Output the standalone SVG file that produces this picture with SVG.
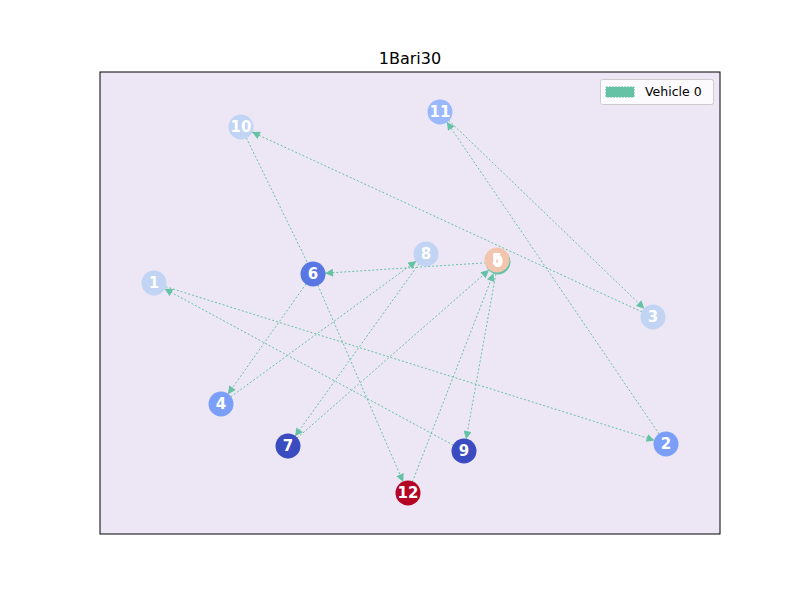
<svg xmlns="http://www.w3.org/2000/svg" width="800" height="600" viewBox="0 0 800 600">
<style>
.t{font-family:"DejaVu Sans",sans-serif;}
.e{stroke:#66c2a5;stroke-width:1;stroke-dasharray:2,2;fill:none;marker-end:url(#ah);}
.n text{font-family:"DejaVu Sans",sans-serif;font-size:15px;font-weight:bold;fill:#fff;text-anchor:middle;dominant-baseline:central;}
</style>
<defs>
<marker id="ah" viewBox="0 0 10 10" refX="10" refY="5" markerWidth="9" markerHeight="8" markerUnits="userSpaceOnUse" orient="auto">
<path d="M0,0 L10,5 L0,10 z" fill="#66c2a5"/>
</marker>
</defs>
<rect width="800" height="600" fill="#fff"/>
<rect x="100" y="72" width="620" height="462" fill="#ede7f5" stroke="#000" stroke-width="1"/>
<text class="t" x="410" y="64" font-size="16" text-anchor="middle">1Bari30</text>
<g id="edges">
<line class="e" x1="486" y1="262.8" x2="325" y2="273.2"/>
<line class="e" x1="317.8" y1="285" x2="403.2" y2="482"/>
<line class="e" x1="412.4" y1="481.8" x2="493.6" y2="273.2"/>
<line class="e" x1="495.9" y1="273.8" x2="466.1" y2="439.2"/>
<line class="e" x1="453.5" y1="445.3" x2="164.5" y2="288.7"/>
<line class="e" x1="165.4" y1="286.6" x2="654.6" y2="440.4"/>
<line class="e" x1="659.2" y1="434.1" x2="446.8" y2="121.9"/>
<line class="e" x1="448.6" y1="120.3" x2="644.4" y2="308.7"/>
<line class="e" x1="642.1" y1="312" x2="251.9" y2="132"/>
<line class="e" x1="246.3" y1="137.8" x2="307.7" y2="263.2" style="marker-end:none"/>
<line class="e" x1="306.1" y1="283.8" x2="227.9" y2="394.2"/>
<line class="e" x1="230.7" y1="396.9" x2="416.3" y2="261.1"/>
<line class="e" x1="419" y1="263.7" x2="295" y2="436.3"/>
<line class="e" x1="297" y1="438.1" x2="489" y2="269.9"/>
</g>
<g id="node0" class="n"><circle cx="498" cy="262" r="12.5" fill="#66c2a5"/></g>
<g id="node5" class="n"><circle cx="497" cy="260" r="12.5" fill="#f2c6ae"/></g>
<g id="node1" class="n"><circle cx="154" cy="283" r="12.5" fill="#c1d4f4"/><text x="154" y="283">1</text></g>
<g id="node2" class="n"><circle cx="666" cy="444" r="12.5" fill="#7b9ff9"/><text x="666" y="444">2</text></g>
<g id="node3" class="n"><circle cx="653" cy="317" r="12.5" fill="#c1d4f4"/><text x="653" y="317">3</text></g>
<g id="node4" class="n"><circle cx="221" cy="404" r="12.5" fill="#7b9ff9"/><text x="221" y="404">4</text></g>
<g id="node6" class="n"><circle cx="313" cy="274" r="12.5" fill="#5977e3"/><text x="313" y="274">6</text></g>
<g id="node7" class="n"><circle cx="288" cy="446" r="12.5" fill="#3b4cc0"/><text x="288" y="446">7</text></g>
<g id="node8" class="n"><circle cx="426" cy="254" r="12.5" fill="#c1d4f4"/><text x="426" y="254">8</text></g>
<g id="node9" class="n"><circle cx="464" cy="451" r="12.5" fill="#3b4cc0"/><text x="464" y="451">9</text></g>
<g id="node10" class="n"><circle cx="241" cy="127" r="12.5" fill="#c1d4f4"/><text x="241" y="127">10</text></g>
<g id="node11" class="n"><circle cx="440" cy="112" r="12.5" fill="#9ab8fe"/><text x="440" y="112">11</text></g>
<g id="node12" class="n"><circle cx="408" cy="493" r="12.5" fill="#b40426"/><text x="408" y="493">12</text></g>
<g id="labels05" class="n"><text x="498" y="262">0</text><text x="497" y="260">5</text></g>
<g id="legend">
<rect x="600.5" y="79.5" width="113" height="25" rx="2" fill="#fff" fill-opacity="0.8" stroke="#ccc"/>
<rect x="606" y="87" width="28" height="10" fill="#66c2a5" stroke="#66c2a5" stroke-dasharray="2,1"/>
<text class="t" x="645" y="96" font-size="12.5">Vehicle 0</text>
</g>
</svg>
